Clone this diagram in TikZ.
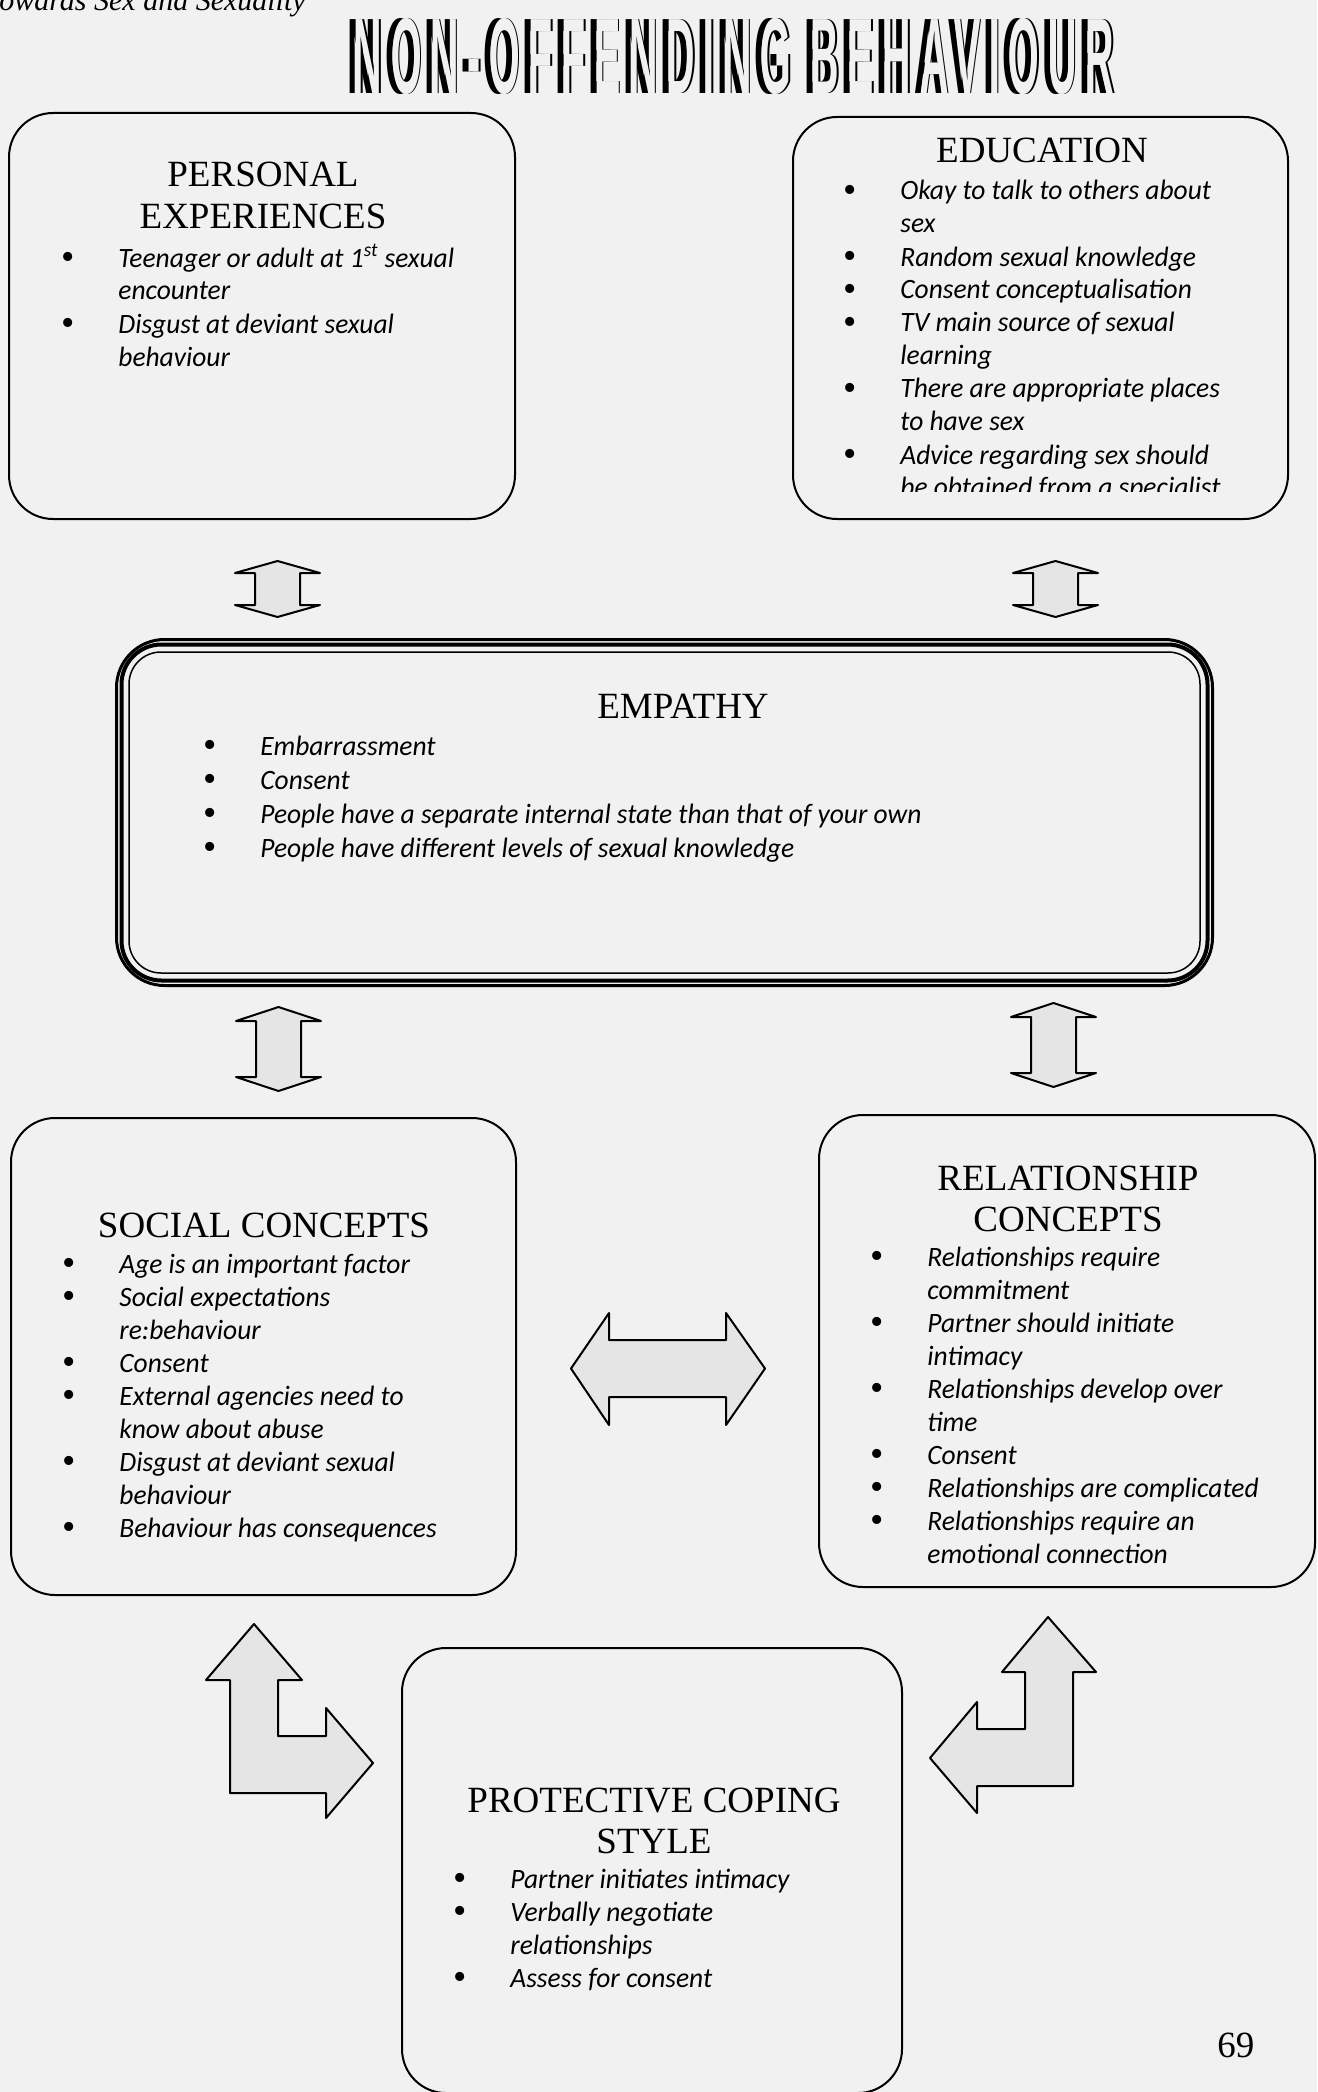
\documentclass[tikz,border=0pt]{standalone}
\usepackage{fontspec}
\setmainfont{Liberation Serif}
\newfontfamily\bodyfont[FakeStretch=0.98]{Carlito}
\newfontfamily\headfont[LetterSpace=22]{Liberation Sans}
\usepackage{graphicx}
\usepackage{tikz}
\usetikzlibrary{positioning,fit,calc}

\definecolor{paper}{gray}{0.945}
\definecolor{arrfill}{gray}{0.90}

\newcommand{\bitem}{\makebox[25pt][l]{\makebox[0pt]{\raisebox{-1.4pt}{\rmfamily\upshape\fontsize{19}{19}\selectfont\textbullet}}}}
\newcommand{\bcont}{\hspace*{25pt}}
\newcommand{\bannertext}{\resizebox{380pt}{37.5pt}{\headfont\bfseries NON-OFFENDING BEHAVIOUR}}

\begin{document}
\begin{tikzpicture}[
  x=0.5pt, y=-0.5pt,
  panel/.style={draw, line width=1pt, rounded corners=22pt, inner sep=0pt},
  boxtitle/.style={anchor=base, inner sep=0pt, font=\fontsize{18.5}{20.75}\selectfont},
  items/.style={anchor=base west, inner sep=0pt, font=\bodyfont\itshape\fontsize{14}{16.5}\selectfont},
  blockarr/.style={draw, line width=1pt, fill=arrfill, line join=round}
]
\useasboundingbox (0,0) rectangle (1317,2092);
\fill[paper] (0,0) rectangle (1317,2092);

% running head and banner
\node[anchor=base west, inner sep=0pt, font=\itshape\fontsize{15}{18}\selectfont] (runhead) at (-1,11) {owards Sex and Sexuality};
\node[anchor=south, inner sep=0pt, text=black] at (728,95) {\bannertext};
\node[anchor=south, inner sep=0pt, text=black] at (735.5,95) {\bannertext};
\node[anchor=south, inner sep=0pt, text=paper] (banner) at (734,95) {\bannertext};

% boxes
\node[panel, fit={(9,113) (515,519)}] (pe) {};
\node[panel, fit={(793,117) (1288,519)}] (ed) {};
\node[fit={(116.5,639.5) (1212.5,985.5)}, inner sep=0pt, draw, line width=1.5pt, rounded corners=24pt] (emp) {};
\draw[line width=2pt, rounded corners=20pt] ($(emp.north west)+(6.5,6.5)$) rectangle ($(emp.south east)-(6.5,6.5)$);
\draw[line width=0.75pt, rounded corners=16pt] ($(emp.north west)+(14,14)$) rectangle ($(emp.south east)-(14,14)$);
\node[panel, fit={(11,1118) (516,1595)}] (sc) {};
\node[panel, fit={(819,1115) (1315,1587)}] (rc) {};
\node[panel, fit={(402,1648) (902,2093)}] (pcs) {};

% personal experiences
\node[boxtitle] (pe-t) at (263,187) {\begin{tabular}[t]{@{}c@{}}PERSONAL\\EXPERIENCES\end{tabular}};
\node[items] (pe-l) at (68,267) {\begin{tabular}[t]{@{}l@{}}
  \bitem Teenager or adult at 1\textsuperscript{st} sexual\\
  \bcont encounter\\
  \bitem Disgust at deviant sexual\\
  \bcont behaviour
\end{tabular}};

% education (last line runs under the frame)
\node[boxtitle] (ed-t) at (1042,163) {EDUCATION};
\begin{scope}
\clip (793,117) rectangle (1288,491);
\node[items] (ed-l) at (850,200) {\begin{tabular}[t]{@{}l@{}}
  \bitem Okay to talk to others about\\
  \bcont sex\\
  \bitem Random sexual knowledge\\
  \bitem Consent conceptualisation\\
  \bitem TV main source of sexual\\
  \bcont learning\\
  \bitem There are appropriate places\\
  \bcont to have sex\\
  \bitem Advice regarding sex should\\
  \bcont be obtained from a specialist
\end{tabular}};
\end{scope}

% empathy
\node[boxtitle] (emp-t) at (683,718) {EMPATHY};
\node[items, font=\bodyfont\itshape\fontsize{14}{17}\selectfont] (emp-l) at (210,755) {\begin{tabular}[t]{@{}l@{}}
  \bitem Embarrassment\\
  \bitem Consent\\
  \bitem People have a separate internal state than that of your own\\
  \bitem People have different levels of sexual knowledge
\end{tabular}};

% social concepts
\node[boxtitle] (sc-t) at (264,1237) {SOCIAL CONCEPTS};
\node[items] (sc-l) at (69,1273) {\begin{tabular}[t]{@{}l@{}}
  \bitem Age is an important factor\\
  \bitem Social expectations\\
  \bcont re:behaviour\\
  \bitem Consent\\
  \bitem External agencies need to\\
  \bcont know about abuse\\
  \bitem Disgust at deviant sexual\\
  \bcont behaviour\\
  \bitem Behaviour has consequences
\end{tabular}};

% relationship concepts
\node[boxtitle] (rc-t) at (1068,1190) {\begin{tabular}[t]{@{}c@{}}RELATIONSHIP\\CONCEPTS\end{tabular}};
\node[items] (rc-l) at (877,1266) {\begin{tabular}[t]{@{}l@{}}
  \bitem Relationships require\\
  \bcont commitment\\
  \bitem Partner should initiate\\
  \bcont intimacy\\
  \bitem Relationships develop over\\
  \bcont time\\
  \bitem Consent\\
  \bitem Relationships are complicated\\
  \bitem Relationships require an\\
  \bcont emotional connection
\end{tabular}};

% protective coping style
\node[boxtitle] (pcs-t) at (654,1812) {\begin{tabular}[t]{@{}c@{}}PROTECTIVE COPING\\STYLE\end{tabular}};
\node[items] (pcs-l) at (460,1888) {\begin{tabular}[t]{@{}l@{}}
  \bitem Partner initiates intimacy\\
  \bitem Verbally negotiate\\
  \bcont relationships\\
  \bitem Assess for consent
\end{tabular}};

% block arrows between the boxes
\draw[blockarr] (277.5,561) -- (320,573) -- (300,573) -- (300,605) -- (320,605) -- (277.5,617)
  -- (235,605) -- (255,605) -- (255,573) -- (235,573) -- cycle;
\draw[blockarr] (1055.5,561) -- (1098,573) -- (1078,573) -- (1078,605) -- (1098,605) -- (1055.5,617)
  -- (1013,605) -- (1033,605) -- (1033,573) -- (1013,573) -- cycle;
\draw[blockarr] (278.5,1007) -- (321,1021) -- (301,1021) -- (301,1077) -- (321,1077) -- (278.5,1091)
  -- (236,1077) -- (256,1077) -- (256,1021) -- (236,1021) -- cycle;
\draw[blockarr] (1053.5,1003) -- (1096,1017) -- (1076,1017) -- (1076,1073) -- (1096,1073) -- (1053.5,1087)
  -- (1011,1073) -- (1031,1073) -- (1031,1017) -- (1011,1017) -- cycle;
\draw[blockarr] (571,1368.5) -- (609,1313) -- (609,1340) -- (726,1340) -- (726,1313) -- (765,1368.5)
  -- (726,1425) -- (726,1397) -- (609,1397) -- (609,1425) -- cycle;
\draw[blockarr] (254,1624) -- (302,1680) -- (278,1680) -- (278,1736) -- (326,1736) -- (326,1708)
  -- (373,1763) -- (326,1818) -- (326,1793) -- (230,1793) -- (230,1680) -- (206,1680) -- cycle;
\draw[blockarr] (1048,1617) -- (1096,1672) -- (1073,1672) -- (1073,1786) -- (977,1786) -- (977,1813)
  -- (930,1758) -- (977,1702) -- (977,1729) -- (1025,1729) -- (1025,1672) -- (1002,1672) -- cycle;

% page number
\node[anchor=base west, inner sep=0pt, font=\fontsize{18.5}{20}\selectfont] (pagenum) at (1217,2057) {69};
\end{tikzpicture}
\end{document}
